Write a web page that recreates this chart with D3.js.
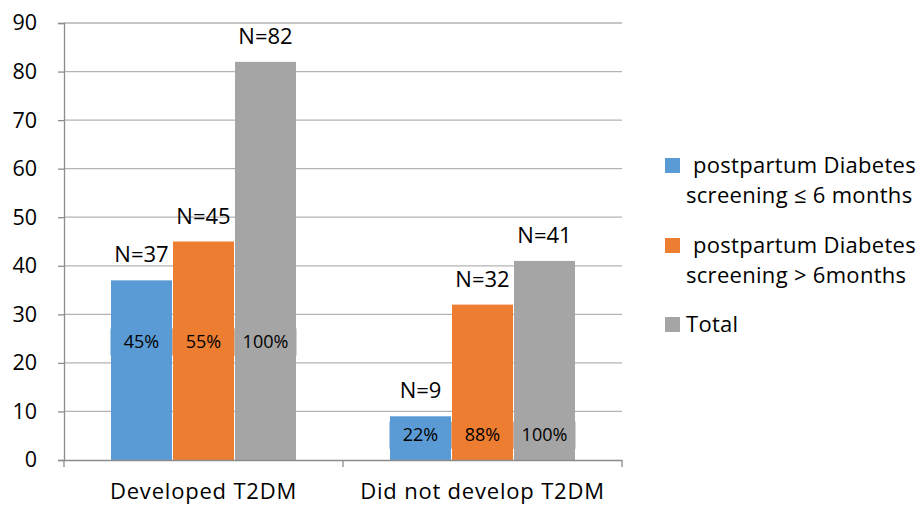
<!DOCTYPE html>
<html><head><meta charset="utf-8">
<script src="https://cdn.jsdelivr.net/npm/d3@7"></script>
<style>body{margin:0;background:#fff}svg{display:block}text{font-family:"Open Sans",sans-serif;fill:#000}</style>
</head><body><svg id="c" width="922" height="505"></svg>
<script>
const categories = ["Developed T2DM", "Did not develop T2DM"];
const seriesNames = ["postpartum Diabetes screening ≤ 6 months", "postpartum Diabetes screening > 6months", "Total"];
const legendLines = [["postpartum Diabetes", "screening ≤ 6 months"], ["postpartum Diabetes", "screening > 6months"], ["Total"]];
const seriesColors = ["#5b9bd5", "#ed7d31", "#a5a5a5"];
const screeningLE6 = [37, 9];
const screeningGT6 = [45, 32];
const totals = [82, 41];
const pctLE6 = ["45%", "22%"];
const pctGT6 = ["55%", "88%"];
const pctTotal = ["100%", "100%"];
const pctLabelLevel = [24.4, 5.2];
const yTicks = [0, 10, 20, 30, 40, 50, 60, 70, 80, 90];

const values = [screeningLE6, screeningGT6, totals];
const pcts = [pctLE6, pctGT6, pctTotal];

const svg = d3.select("#c");
const mLeft = 64, mRight = 622, mTop = 23, mBottom = 460;
const y = d3.scaleLinear().domain([0, 90]).range([mBottom, mTop]);
const x0 = d3.scaleBand().domain(categories).range([mLeft, mRight]);
const x1 = d3.scaleBand().domain(d3.range(3)).range([0, x0.bandwidth()]).paddingInner(0).paddingOuter(0.75);

// gridlines
svg.append("g").selectAll("line").data(yTicks.filter(d => d > 0)).join("line")
  .attr("x1", mLeft).attr("x2", mRight).attr("y1", d => y(d)).attr("y2", d => y(d))
  .attr("stroke", "#b3b3b3").attr("stroke-width", 1.3);

// y axis
const ya = svg.append("g").attr("transform", `translate(${mLeft},0)`)
  .call(d3.axisLeft(y).tickValues(yTicks).tickSize(6).tickPadding(21));
ya.select(".domain").attr("stroke", "#8c8c8c").attr("stroke-width", 1.3);
ya.selectAll(".tick line").attr("stroke", "#8c8c8c").attr("stroke-width", 1.3);
ya.selectAll(".tick text").attr("font-size", 21.5).attr("font-family", "Open Sans").attr("fill", "#000");

// bars
const groups = svg.append("g").selectAll("g").data(categories).join("g")
  .attr("transform", d => `translate(${x0(d)},0)`);
groups.each(function(cat, ci) {
  const g = d3.select(this);
  for (let s = 0; s < 3; s++) {
    const v = values[s][ci];
    g.append("rect").attr("x", x1(s) + 0.5).attr("width", x1.bandwidth() - 1)
      .attr("y", y(v)).attr("height", y(0) - y(v)).attr("fill", seriesColors[s]);
  }
  for (let s = 0; s < 3; s++) {
    const v = values[s][ci];
    g.append("text").attr("x", x1(s) + x1.bandwidth() / 2).attr("y", y(v) - 18)
      .attr("text-anchor", "middle").attr("font-size", 22).text("N=" + v);
    const ly = y(pctLabelLevel[ci]);
    g.append("rect").attr("x", x1(s)).attr("width", x1.bandwidth())
      .attr("y", ly - 13).attr("height", 27).attr("fill", seriesColors[s]);
    g.append("text").attr("x", x1(s) + x1.bandwidth() / 2).attr("y", ly + 6.5)
      .attr("text-anchor", "middle").attr("font-size", 18).text(pcts[s][ci]);
  }
});

// x axis
const xa = svg.append("g").attr("transform", `translate(0,${mBottom})`)
  .call(d3.axisBottom(x0).tickSize(0).tickPadding(23));
xa.select(".domain").attr("stroke", "#8c8c8c").attr("stroke-width", 1.3);
xa.selectAll(".tick text").attr("font-size", 22).attr("letter-spacing", "0.8px")
  .attr("font-family", "Open Sans").attr("fill", "#000");
svg.append("g").selectAll("line").data([mLeft, ...categories.map(c => x0(c) + x0.bandwidth())]).join("line")
  .attr("x1", d => d).attr("x2", d => d).attr("y1", mBottom).attr("y2", mBottom + 7)
  .attr("stroke", "#8c8c8c").attr("stroke-width", 1.3);

// legend
const legendTop = [158, 238, 317];
const lg = svg.append("g");
seriesNames.forEach((n, i) => {
  lg.append("rect").attr("x", 665).attr("y", legendTop[i]).attr("width", 15).attr("height", 15).attr("fill", seriesColors[i]);
  legendLines[i].forEach((t, j) => {
    lg.append("text").attr("x", j === 0 && legendLines[i].length > 1 ? 693 : 686)
      .attr("y", legendTop[i] + 15 + j * 30).attr("font-size", 22).attr("letter-spacing", "0.3px").text(t);
  });
});
</script></body></html>
